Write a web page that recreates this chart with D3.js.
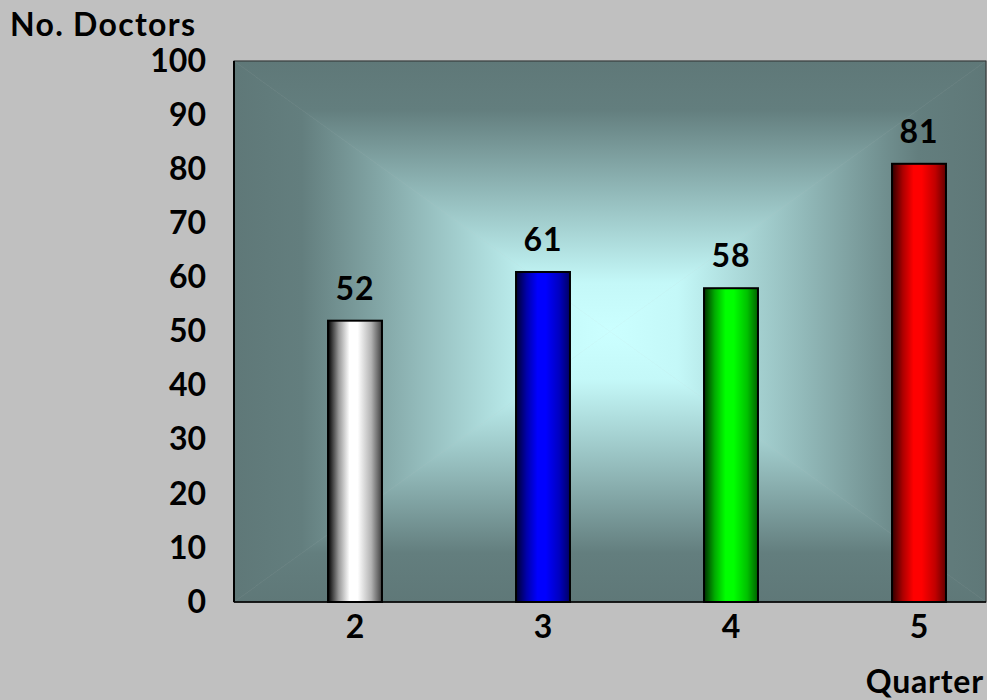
<!DOCTYPE html>
<html>
<head>
<meta charset="UTF-8">
<script src="https://d3js.org/d3.v7.min.js"></script>
<style>
  body { margin: 0; padding: 0; background: #c0c0c0; }
  text { font-family: Lato, "DejaVu Sans", sans-serif; font-weight: bold; fill: #000; }
</style>
</head>
<body>
<div id="chart"></div>
<script>
// data
const quarters = ["2", "3", "4", "5"];
const doctors = [52, 61, 58, 81];
const barColors = ["#ffffff", "#0000ff", "#00ff00", "#ff0000"];
const barDark = ["#000000", "#000030", "#003000", "#300000"];
const yTicks = [0, 10, 20, 30, 40, 50, 60, 70, 80, 90, 100];

const width = 987, height = 700;
const margin = { left: 234, top: 61, right: 1, bottom: 98 };
const pw = width - margin.left - margin.right;
const ph = height - margin.top - margin.bottom;
const fontSize = 32;

const svg = d3.select("#chart").append("svg")
    .attr("width", width)
    .attr("height", height);

const defs = svg.append("defs");

// rectangle-style gradient for the plot area, one linear gradient per side
const bgStops = [[0, "#5f7878"], [0.18, "#637e7e"], [0.5, "#94bcbc"], [0.82, "#c4f8f8"], [1, "#cbffff"]];
[["top", 0, 0, 0, 1], ["bottom", 0, 1, 0, 0], ["left", 0, 0, 1, 0], ["right", 1, 0, 0, 0]]
    .forEach(([id, x1, y1, x2, y2]) => {
        const lg = defs.append("linearGradient").attr("id", "bg-" + id)
            .attr("x1", x1).attr("y1", y1).attr("x2", x2).attr("y2", y2);
        bgStops.forEach(s => lg.append("stop").attr("offset", s[0]).attr("stop-color", s[1]));
    });

// cylinder gradients for the bars
barColors.forEach((c, i) => {
    const lg = defs.append("linearGradient").attr("id", "bar-" + i)
        .attr("x1", 0).attr("y1", 0).attr("x2", 1).attr("y2", 0);
    const mix = d3.interpolateRgb(barDark[i], c);
    lg.append("stop").attr("offset", 0).attr("stop-color", barDark[i]);
    lg.append("stop").attr("offset", 0.2).attr("stop-color", mix(0.6));
    lg.append("stop").attr("offset", 0.4).attr("stop-color", c);
    lg.append("stop").attr("offset", 0.55).attr("stop-color", c);
    lg.append("stop").attr("offset", 0.8).attr("stop-color", mix(0.7));
    lg.append("stop").attr("offset", 1).attr("stop-color", mix(0.25));
});

const g = svg.append("g").attr("transform", `translate(${margin.left},${margin.top})`);

const x = d3.scaleBand().domain(quarters).range([27, 779]).paddingInner(0.713).paddingOuter(0.3565);
const y = d3.scaleLinear().domain([0, 100]).range([ph, 0]);

// plot background: four triangles meeting in the centre
const cx = pw / 2, cy = ph / 2;
const tris = [
    ["top", [[0, 0], [pw, 0], [cx, cy]]],
    ["bottom", [[0, ph], [pw, ph], [cx, cy]]],
    ["left", [[0, 0], [0, ph], [cx, cy]]],
    ["right", [[pw, 0], [pw, ph], [cx, cy]]]
];
tris.forEach(([id, pts]) => {
    g.append("path")
        .attr("d", "M" + pts.map(p => p.join(",")).join("L") + "Z")
        .attr("fill", `url(#bg-${id})`)
        .attr("stroke", `url(#bg-${id})`)
        .attr("stroke-width", 0.5);
});
g.append("rect")
    .attr("width", pw).attr("height", ph)
    .attr("fill", "none").attr("stroke", "#333").attr("stroke-width", 1);
g.append("line").attr("x1", 0).attr("x2", 0).attr("y1", 0).attr("y2", ph)
    .attr("stroke", "#000").attr("stroke-width", 2);
g.append("line").attr("x1", 0).attr("x2", pw).attr("y1", ph).attr("y2", ph)
    .attr("stroke", "#000").attr("stroke-width", 1.5);

// bars
g.selectAll(".bar")
    .data(doctors)
    .enter().append("rect")
    .attr("class", "bar")
    .attr("x", (d, i) => x(quarters[i]))
    .attr("y", d => y(d))
    .attr("width", x.bandwidth())
    .attr("height", d => ph - y(d))
    .attr("fill", (d, i) => `url(#bar-${i})`)
    .attr("stroke", "#000")
    .attr("stroke-width", 2);

// value labels
g.selectAll(".val")
    .data(doctors)
    .enter().append("text")
    .attr("class", "val")
    .attr("x", (d, i) => x(quarters[i]) + x.bandwidth() / 2)
    .attr("y", d => y(d) - 21)
    .attr("text-anchor", "middle")
    .attr("font-size", fontSize)
    .attr("letter-spacing", 1)
    .text(d => d);

// y axis labels
const yAxis = g.append("g").call(d3.axisLeft(y).tickValues(yTicks).tickSize(0).tickPadding(28));
yAxis.select(".domain").remove();
yAxis.selectAll("text")
    .attr("font-size", fontSize)
    .attr("font-family", "Lato, 'DejaVu Sans', sans-serif")
    .attr("font-weight", "bold")
    .attr("fill", "#000");

// x axis labels
const xAxis = g.append("g").attr("transform", `translate(0,${ph})`)
    .call(d3.axisBottom(x).tickSize(0).tickPadding(13));
xAxis.select(".domain").remove();
xAxis.selectAll("text")
    .attr("font-size", fontSize)
    .attr("font-family", "Lato, 'DejaVu Sans', sans-serif")
    .attr("font-weight", "bold")
    .attr("fill", "#000");

// axis titles
svg.append("text").attr("x", 10).attr("y", 36).attr("font-size", 32)
    .attr("letter-spacing", 1.3).text("No. Doctors");
svg.append("text").attr("x", 984).attr("y", 693).attr("text-anchor", "end").attr("font-size", 32)
    .attr("letter-spacing", 0.8).text("Quarter");
</script>
</body>
</html>
